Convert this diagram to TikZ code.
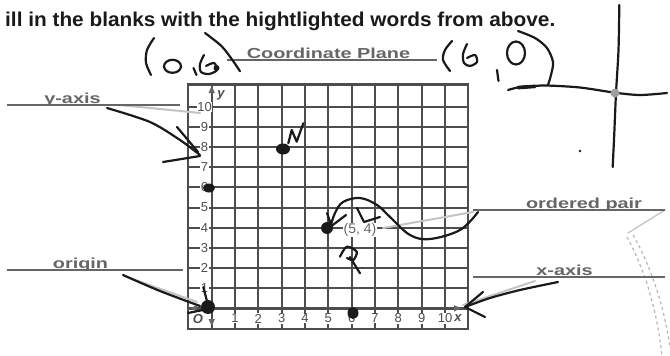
\documentclass[tikz,border=0pt]{standalone}
\usepackage{fontspec}
\setmainfont{Liberation Sans}
\usetikzlibrary{arrows.meta}
\definecolor{lbl}{HTML}{666666}
\definecolor{gridc}{HTML}{4D4D4D}
\definecolor{ink}{HTML}{1A1A1A}
\definecolor{faint}{HTML}{C4C4C4}
\begin{document}
\begin{tikzpicture}[x=1pt,y=-1pt,
  hand/.style={line width=2.2pt, draw=ink, line cap=round, line join=round},
  blank/.style={line width=2.3pt, draw=lbl},
  lbltext/.style={anchor=base, text=lbl, font=\fontsize{14.5}{14.5}\selectfont\bfseries, inner sep=0pt},
  gridline/.style={line width=2pt, draw=gridc},
  num/.style={text=gridc, font=\fontsize{13}{13}\selectfont, fill=white, inner sep=0.5pt},
  axlbl/.style={text=gridc, font=\fontsize{13}{13}\selectfont\bfseries\itshape, inner sep=0.5pt},
  leader/.style={line width=2pt, draw=faint, line cap=round},
]
\useasboundingbox (0,0) rectangle (670,356);
\fill[white] (0,0) rectangle (670,356);

% header
\node[anchor=base west, inner sep=0pt, text=ink, font=\fontsize{20}{20}\selectfont\bfseries] (hdr) at (5,27)
  {\scalebox{1.04}[1]{ill in the blanks with the hightlighted words from above.}};

% grid
\foreach \i in {0,...,10} \draw[gridline] ({211.7+23.33*\i},84.5) -- ({211.7+23.33*\i},329);
\foreach \j in {0,...,10} \draw[gridline] (188,{308.3-20.16*\j}) -- (468,{308.3-20.16*\j});
\draw[gridline, line width=2.4pt] (188,84.5) rectangle (468,329);
\draw[gridc, line width=2.4pt] (211.7,84.5) -- (211.7,329);
\draw[gridc, line width=2.4pt] (188,308.3) -- (468,308.3);
% axis arrow tips
\fill[lbl] (211.7,86) -- (208.5,93) -- (214.9,93) -- cycle;
\fill[lbl] (211.7,326) -- (208.5,319) -- (214.9,319) -- cycle;
\fill[lbl] (461,308.3) -- (454,305.1) -- (454,311.5) -- cycle;
\fill[lbl] (190,308.3) -- (197,305.1) -- (197,311.5) -- cycle;

\foreach \j in {1,...,10} \node[num] (yl\j) at (204.5,{308.3-20.16*\j}) {\j};
\foreach \i in {1,...,10} \node[num] (xl\i) at ({211.7+23.33*\i},318.5) {\i};
\node[axlbl, fill=white] (O) at (198,319) {O};
\node[axlbl, fill=white] (xlab) at (458,318) {x};
\node[axlbl, fill=white] (ylab) at (221,95) {y};
\node[text=lbl, font=\fontsize{14}{14}\selectfont, fill=white, inner sep=0.8pt] (p54) at (360,230) {(5, 4)};

% faint leaders of the textbook
\draw[leader] (120,105) -- (200,113);
\draw[leader] (127,277) -- (197,302);
\draw[leader] (473,212) -- (383,228);
\draw[leader] (535,281) -- (463,305);
\draw[leader, line width=1.3pt] (665,210) -- (628,233);
\draw[faint!80!gray, dashed, line width=1.2pt] (627,237) .. controls (645,270) and (657,310) .. (662,356);
\draw[faint!80!gray, dashed, line width=1.2pt] (633,235) .. controls (652,268) and (665,310) .. (670,348);

% blanks with labels
\draw[blank] (227,60) -- (437,60);
\node[lbltext] (lcp) at (328.5,58) {\scalebox{1.37}[1]{Coordinate Plane}};
\draw[blank] (7,105) -- (180,105);
\node[lbltext] (lya) at (72.5,103) {\scalebox{1.37}[1]{y-axis}};
\draw[blank] (7,270) -- (183,270);
\node[lbltext] (lor) at (80.5,268.5) {\scalebox{1.37}[1]{origin}};
\draw[blank] (473,210) -- (665,210);
\node[lbltext] (lop) at (584,208.5) {\scalebox{1.37}[1]{ordered pair}};
\draw[blank] (473,277) -- (665,277);
\node[lbltext] (lxa) at (564.5,275.5) {\scalebox{1.37}[1]{x-axis}};

% handwriting: (0,6)
\draw[hand] plot[smooth] coordinates {(154,38) (147,50) (146,63) (151,75)};
\draw[hand] (172.5,66.3) ellipse [x radius=8.5pt, y radius=6.5pt];
\draw[hand] (193.5,68) -- (196.5,75);
\draw[hand] plot[smooth] coordinates {(204,55) (200,64) (201,72) (209,74) (217,70) (214,63) (206,66)};
\fill[ink] (216.5,68) circle [radius=3pt];
\draw[hand] plot[smooth] coordinates {(205,33) (221.7,46.3) (233.3,61.3) (240,71.3)};

% handwriting: (6,0)
\draw[hand] plot[smooth] coordinates {(452,41) (445,50) (443,60) (450,71)};
\draw[hand] plot[smooth] coordinates {(467,44) (463,54) (464,63) (470,66) (477,62) (475,55) (467,58)};
\draw[hand] (497,70) -- (498.5,81);
\draw[hand] (516,53) ellipse [x radius=9pt, y radius=11.5pt];
\draw[hand] plot[smooth] coordinates {(518,31) (535,38) (547,48) (553,62) (551,75) (548,85)};

% handwriting: cross at right
\draw[hand] plot[smooth] coordinates {(508,90) (520,87) (535,86) (547,85.5) (580,87.5) (615,92.7) (640,95) (667,93)};
\draw[hand, line width=3.6pt] (518,87.6) -- (535,86.4);
\draw[hand] plot[smooth] coordinates {(619.3,5) (618.5,50) (616,93) (614.3,133) (612.7,167)};
\fill[gray!75] (615,93) circle [radius=4.5pt];
\fill[ink] (580,151) circle [radius=1.4pt];

% arrow to y-axis
\draw[hand] plot[smooth] coordinates {(107,108) (150,122) (180,140) (200,155)};
\draw[hand] (177,127) -- (198,152);
\draw[hand] (200,156) -- (163,162);

% arrow to origin
\draw[hand] plot[smooth] coordinates {(123,275) (160,291) (200,306)};
\draw[hand] (188,313) -- (203,310);
\draw[hand] (203.3,287) -- (206.7,300);
\fill[ink] (208,307) circle [radius=7pt];

% points
\fill[ink] (209,188) ellipse [x radius=6pt, y radius=4.5pt];
\fill[ink] (283,149) ellipse [x radius=7pt, y radius=5.5pt];
\fill[ink] (327,228) circle [radius=6pt];
\fill[ink] (353,313) ellipse [x radius=5.5pt, y radius=6pt];
% N
\draw[hand] (288.3,143.3) -- (291.7,130) -- (296.7,141.7) -- (303.3,123.3);

% ordered pair swirl
\draw[hand] plot[smooth, tension=0.6] coordinates {(478,212) (460,230) (430,239) (410,235) (390,217) (377,205) (360,198) (343,202) (335,213) (331,225)};
\draw[hand] (327,213) -- (331.5,226) -- (346,215);
\draw[hand] (357,208) -- (364,222) -- (380,217);
% P-like mark
\draw[hand] plot[smooth] coordinates {(340,256.7) (346.7,246.7) (356.7,251.7) (353.3,260) (347,258)};
\draw[hand] (350,257) -- (360,273.3);

% arrow to x-axis
\draw[hand] plot[smooth] coordinates {(558,282) (520,290) (490,298) (465,307)};
\draw[hand] (483,292) -- (465,307) -- (485,317);
\end{tikzpicture}
\end{document}
